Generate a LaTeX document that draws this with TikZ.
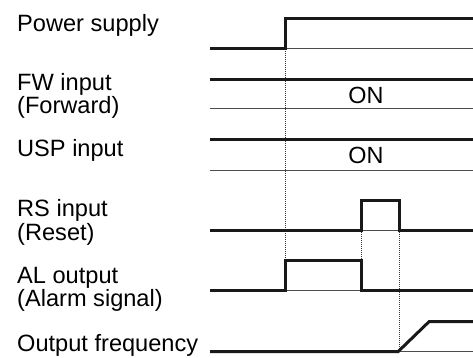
\documentclass[tikz,border=0pt]{standalone}
\usepackage{fontspec}
\setmainfont{Liberation Sans}
\begin{document}
\begin{tikzpicture}[x=1pt,y=-1pt,
  lbl/.style={anchor=base west,inner sep=0pt,align=left,font=\fontsize{23.6}{24}\selectfont},
  ontext/.style={inner sep=0pt,anchor=base,font=\fontsize{23.4}{24}\selectfont},
  sig/.style={line width=3pt,line join=miter,color=black!90},
  base/.style={line width=1pt,color=black!70},
  guide/.style={line width=0.8pt,dash pattern=on 0.8pt off 1.2pt,color=black!80}]
\useasboundingbox (0,0) rectangle (473,358);
% labels
\node[lbl] (lpow) at (17,32) {Power supply};
\node[lbl] (lfw) at (17,90.7) {FW input};
\node[lbl] (lfw2) at (17,113.3) {(Forward)};
\node[lbl] (lusp) at (17,156.5) {USP input};
\node[lbl] (lrs) at (17,216.7) {RS input};
\node[lbl] (lrs2) at (17,240) {(Reset)};
\node[lbl] (lal) at (17,283.3) {AL output};
\node[lbl] (lal2) at (17,306.3) {(Alarm signal)};
\node[lbl] (lof) at (17,351.7) {Output frequency};
% ON texts
\node[ontext] (on1) at (366,103.5) {ON};
\node[ontext] (on2) at (366,163.5) {ON};
% guides
\draw[guide] (285,49) -- (285,260);
\draw[guide] (361,230.3) -- (361,290);
\draw[guide] (399,230.3) -- (399,351.7);
% baselines (thin)
\draw[base] (285,49) -- (473,49);
\draw[base] (210,109) -- (473,109);
\draw[base] (210,170) -- (473,170);
\draw[base] (361,230.3) -- (399,230.3);
\draw[base] (285,290) -- (361,290);
\draw[base] (398,351.7) -- (473,351.7);
% signals
\draw[sig] (210,49) -- (285,49) -- (285,18.5) -- (473,18.5);
\draw[sig] (210,79.3) -- (473,79.3);
\draw[sig] (210,139.3) -- (473,139.3);
\draw[sig] (210,230.3) -- (361,230.3) -- (361,200.7) -- (399,200.7) -- (399,230.3) -- (473,230.3);
\draw[sig] (210,290) -- (285,290) -- (285,260) -- (361,260) -- (361,290) -- (473,290);
\draw[sig] (210,351.7) -- (398,351.7) -- (429,321.7) -- (473,321.7);
\end{tikzpicture}
\end{document}
